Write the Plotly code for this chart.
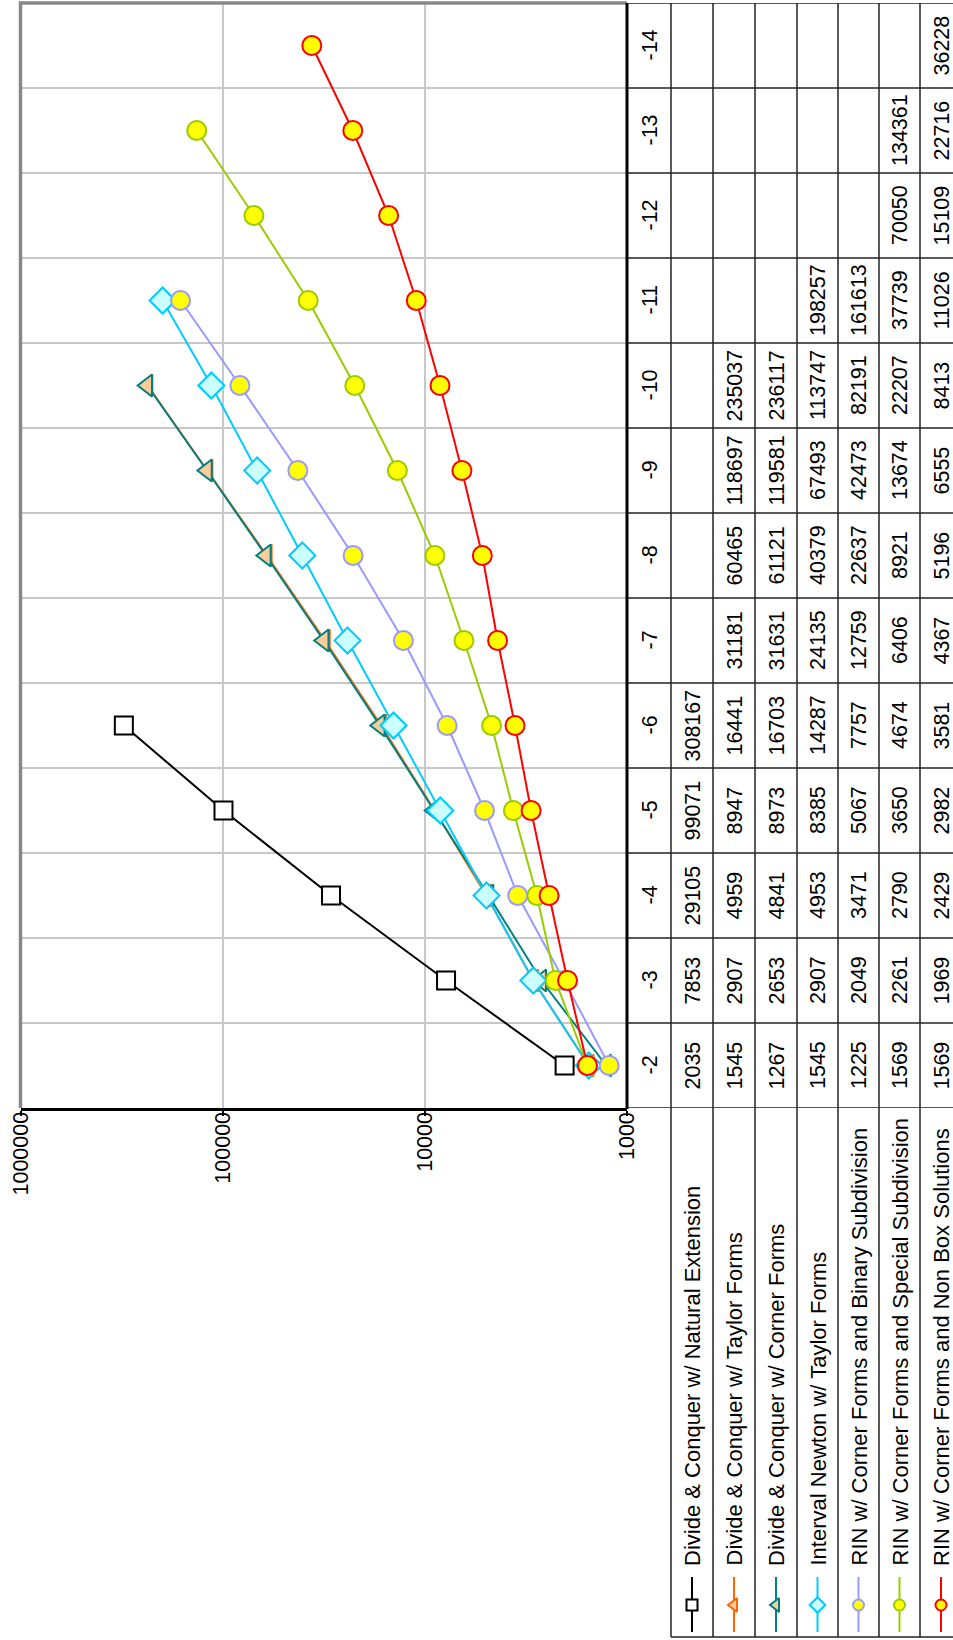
import math
import plotly.graph_objects as go

# ---- data -------------------------------------------------------------
categories = [-2, -3, -4, -5, -6, -7, -8, -9, -10, -11, -12, -13, -14]

series_names = [
    "Divide & Conquer w/ Natural Extension",
    "Divide & Conquer w/ Taylor Forms",
    "Divide & Conquer w/ Corner Forms",
    "Interval Newton w/ Taylor Forms",
    "RIN w/ Corner Forms and Binary Subdivision",
    "RIN w/ Corner Forms and Special Subdivision",
    "RIN w/ Corner Forms and Non Box Solutions",
]

dc_natural = [2035, 7853, 29105, 99071, 308167]
dc_taylor = [1545, 2907, 4959, 8947, 16441, 31181, 60465, 118697, 235037]
dc_corner = [1267, 2653, 4841, 8973, 16703, 31631, 61121, 119581, 236117]
in_taylor = [1545, 2907, 4953, 8385, 14287, 24135, 40379, 67493, 113747, 198257]
rin_binary = [1225, 2049, 3471, 5067, 7757, 12759, 22637, 42473, 82191, 161613]
rin_special = [1569, 2261, 2790, 3650, 4674, 6406, 8921, 13674, 22207, 37739,
               70050, 134361]
rin_nonbox = [1569, 1969, 2429, 2982, 3581, 4367, 5196, 6555, 8413, 11026,
              15109, 22716, 36228]

series_values = [dc_natural, dc_taylor, dc_corner, in_taylor,
                 rin_binary, rin_special, rin_nonbox]

value_ticks = [1000, 10000, 100000, 1000000]
value_tick_labels = ["1000", "10000", "100000", "1000000"]

# ---- styles -----------------------------------------------------------
line_colors = ["#000000", "#FF6600", "#008080", "#00CCFF",
               "#9999FF", "#99CC00", "#FF0000"]
marker_fills = ["#FFFFFF", "#FFCC99", "#FFCC99", "#CCFFFF",
                "#FFFF00", "#FFFF00", "#FFFF00"]
marker_symbols = ["square", "triangle-left", "triangle-left", "diamond",
                  "circle", "circle", "circle"]
marker_sizes = [18, 19, 19, 20, 19, 19, 19]
key_sizes = [11, 12, 12, 12, 11, 11, 11]

FONT = "Arial, Liberation Sans, Helvetica, sans-serif"
FS = 21.5
FS_NAME = 22

W, H = 953, 1640
PLOT_L, PLOT_R, PLOT_T, PLOT_B = 20.5, 627, 3, 1108
COL_EDGES = [627, 671, 713, 755, 797, 838, 879, 920, 962]
TABLE_BOTTOM = 1637
TEXT_LINE = "#222222"


def px(x):
    return x / W


def py(y):
    return 1 - y / H


fig = go.Figure()

# series lines (values on a reversed log axis, categories running upward)
for name, vals, lc, fill, sym, ms in zip(series_names, series_values,
                                         line_colors, marker_fills,
                                         marker_symbols, marker_sizes):
    fig.add_trace(go.Scatter(
        x=vals, y=categories[:len(vals)], name=name,
        mode="lines+markers",
        line=dict(color=lc, width=2),
        marker=dict(symbol=sym, size=ms, color=fill,
                    line=dict(color=lc, width=2)),
        cliponaxis=False, showlegend=False,
    ))

# legend keys inside the series-name cells (pixel overlay axes)
for i, (lc, fill, sym, ks) in enumerate(zip(line_colors, marker_fills,
                                            marker_symbols, key_sizes)):
    cx = (COL_EDGES[i + 1] + COL_EDGES[i + 2]) / 2
    fig.add_trace(go.Scatter(
        x=[cx, cx], y=[1577, 1632], mode="lines",
        line=dict(color=lc, width=2), xaxis="x2", yaxis="y2",
        showlegend=False, hoverinfo="skip",
    ))
    fig.add_trace(go.Scatter(
        x=[cx], y=[1605], mode="markers",
        marker=dict(symbol=sym, size=ks, color=fill,
                    line=dict(color=lc, width=2)),
        xaxis="x2", yaxis="y2", showlegend=False, hoverinfo="skip",
    ))

annotations = []

# value axis labels, rotated, ending just under the axis line
# (annotation positions on a log axis are given in log10 units)
for v, t in zip(value_ticks, value_tick_labels):
    annotations.append(dict(
        x=math.log10(v), xref="x", y=py(PLOT_B + 2), yref="paper", text=t,
        textangle=-90, showarrow=False, xanchor="center", yanchor="top",
        font=dict(family=FONT, size=FS, color="black"),
    ))

# category header column
for c in categories:
    annotations.append(dict(
        x=px((COL_EDGES[0] + COL_EDGES[1]) / 2), xref="paper",
        y=c, yref="y", text=str(c), textangle=-90, showarrow=False,
        xanchor="center", yanchor="middle",
        font=dict(family=FONT, size=FS, color="black"),
    ))

# data cells
for i, vals in enumerate(series_values):
    cx = (COL_EDGES[i + 1] + COL_EDGES[i + 2]) / 2
    for c, v in zip(categories, vals):
        annotations.append(dict(
            x=px(cx), xref="paper", y=c, yref="y", text=str(v),
            textangle=-90, showarrow=False,
            xanchor="center", yanchor="middle",
            font=dict(family=FONT, size=FS, color="black"),
        ))

# series names
for i, name in enumerate(series_names):
    cx = (COL_EDGES[i + 1] + COL_EDGES[i + 2]) / 2
    annotations.append(dict(
        x=px(cx), xref="paper", y=py(1568), yref="paper", text=name,
        textangle=-90, showarrow=False, xanchor="center", yanchor="bottom",
        font=dict(family=FONT, size=FS_NAME, color="black"),
    ))

shapes = []
# table rows at category boundaries
row_edges = [c + 0.5 for c in categories] + [categories[-1] - 0.5]
for r in row_edges:
    shapes.append(dict(type="line", xref="paper", yref="y",
                       x0=px(PLOT_R), x1=px(COL_EDGES[-1]), y0=r, y1=r,
                       line=dict(color=TEXT_LINE, width=1.5)))
# table columns
for xe in COL_EDGES[1:]:
    shapes.append(dict(type="line", xref="paper", yref="paper",
                       x0=px(xe), x1=px(xe), y0=py(PLOT_T), y1=py(TABLE_BOTTOM),
                       line=dict(color=TEXT_LINE, width=1.5)))
shapes.append(dict(type="line", xref="paper", yref="paper",
                   x0=px(COL_EDGES[1]), x1=px(COL_EDGES[-1]),
                   y0=py(TABLE_BOTTOM), y1=py(TABLE_BOTTOM),
                   line=dict(color=TEXT_LINE, width=1.5)))
# plot area frame: grey on two sides, black category axis
shapes.append(dict(type="line", xref="paper", yref="paper",
                   x0=px(PLOT_L), x1=px(PLOT_L), y0=py(PLOT_T - 1.5), y1=py(PLOT_B),
                   line=dict(color="#888888", width=3.5)))
shapes.append(dict(type="line", xref="paper", yref="paper",
                   x0=px(PLOT_L - 1.5), x1=px(PLOT_R), y0=py(PLOT_T), y1=py(PLOT_T),
                   line=dict(color="#888888", width=3.5)))
shapes.append(dict(type="line", xref="paper", yref="paper",
                   x0=px(PLOT_R), x1=px(PLOT_R), y0=py(PLOT_T), y1=py(PLOT_B + 1),
                   line=dict(color="black", width=3)))

fig.update_layout(
    width=W, height=H,
    margin=dict(l=0, r=0, t=0, b=0),
    paper_bgcolor="white", plot_bgcolor="rgba(0,0,0,0)",
    font=dict(family=FONT, size=FS, color="black"),
    xaxis=dict(
        type="log", range=[6, 3],
        domain=[px(PLOT_L), px(PLOT_R)],
        tickvals=value_ticks, showticklabels=False,
        ticks="outside", ticklen=5, tickwidth=2,
        tickcolor="black", showline=True, linecolor="black", linewidth=2.5,
        showgrid=True, gridcolor="#C8C8C8", gridwidth=1.5,
        zeroline=False, automargin=False, anchor="y",
    ),
    yaxis=dict(
        range=[categories[0] + 0.5, categories[-1] - 0.5],
        domain=[py(PLOT_B), py(PLOT_T)],
        tickvals=[c - 0.5 for c in categories[:-1]],
        showticklabels=False, ticks="", showline=False,
        showgrid=True, gridcolor="#C8C8C8", gridwidth=1.5,
        zeroline=False, automargin=False, anchor="x",
    ),
    xaxis2=dict(range=[0, W], domain=[0, 1], visible=False,
                anchor="y2", fixedrange=True),
    yaxis2=dict(range=[H, 0], domain=[0, 1], visible=False,
                anchor="x2", fixedrange=True),
    annotations=annotations,
    shapes=shapes,
)

fig.write_html("out.html")
